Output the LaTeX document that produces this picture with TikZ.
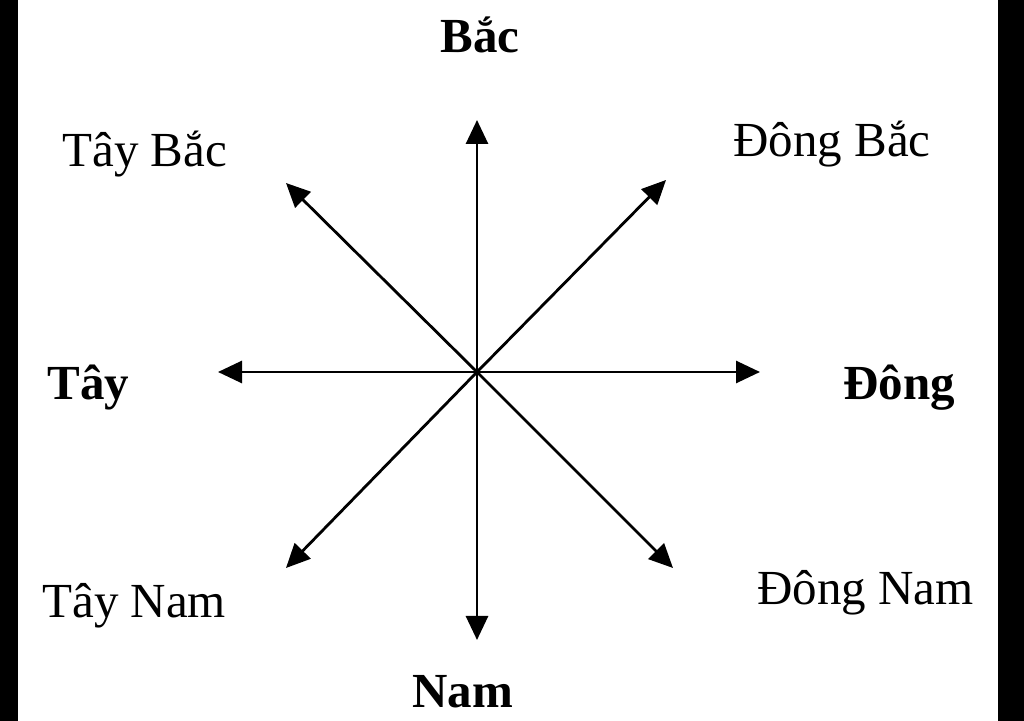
\documentclass[tikz,border=0pt]{standalone}
\usepackage{fontspec}
\setmainfont{Liberation Serif}
\usetikzlibrary{arrows.meta}

\begin{document}
\begin{tikzpicture}[x=0.5pt,y=-0.5pt,
    arr/.style={line width=1.4pt,-{Triangle[length=12pt,width=11pt]}},
    lbl/.style={anchor=base west,inner sep=0pt,font=\fontsize{24.5}{28}\selectfont},
    bold/.style={lbl,font=\fontsize{24.5}{28}\selectfont\bfseries}]
    % page and black side bands
    \useasboundingbox (0,0) rectangle (1024,721);
    \fill[black] (0,0) rectangle (18,721);
    \fill[black] (998,0) rectangle (1024,721);
    % centre and arrow ends
    \coordinate (O) at (477,372);
    \coordinate (N) at (477,120);
    \coordinate (S) at (477,640);
    \coordinate (W) at (218,372);
    \coordinate (E) at (760,372);
    \coordinate (NE) at (666,180);
    \coordinate (NW) at (286,183);
    \coordinate (SW) at (286,568);
    \coordinate (SE) at (673,568);
    \foreach \d in {N,S,W,E,NE,NW,SW,SE}
        \draw[arr] (O) -- (\d);
    % directions
    \node[bold] (bac) at (440,53) {Bắc};
    \node[bold] (nam) at (412,708) {Nam};
    \node[bold] (tay) at (47,400) {Tây};
    \node[bold] (dong) at (843,400) {Đông};
    \node[lbl] (taybac) at (62,167) {Tây Bắc};
    \node[lbl] (dongbac) at (733,157) {Đông Bắc};
    \node[lbl] (taynam) at (42,618) {Tây Nam};
    \node[lbl] (dongnam) at (757,605) {Đông Nam};
\end{tikzpicture}
\end{document}
